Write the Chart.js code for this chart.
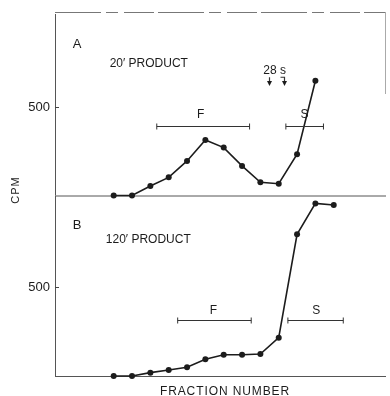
<!DOCTYPE html>
<html>
<head>
<meta charset="utf-8">
<script src="https://cdn.jsdelivr.net/npm/chart.js@4/dist/chart.umd.min.js"></script>
<style>
  html, body { margin: 0; padding: 0; background: #fff; }
  #wrap { position: relative; width: 390px; height: 396px; }
  canvas { position: absolute; left: 0; }
  #cA { top: 0; }
  #cB { top: 186px; }
</style>
</head>
<body>
<div id="wrap">
  <canvas id="cA" width="390" height="215"></canvas>
  <canvas id="cB" width="390" height="210"></canvas>
</div>
<script>
// Fraction numbers and counts for the two sedimentation profiles
const fractionsA = [1, 2, 3, 4, 5, 6, 7, 8, 9, 10, 11, 12];
const cpmA = [0, 0, 54, 103, 196, 315, 272, 168, 75, 67, 234, 651];

const fractionsB = [1, 2, 3, 4, 5, 6, 7, 8, 9, 10, 11, 12, 13];
const cpmB = [0, 0, 19, 34, 49, 94, 120, 120, 124, 216, 799, 973, 964];

const cpmTicks = [500];
const panelLabels = ['A', 'B'];
const productLabels = ['20\u2032 PRODUCT', '120\u2032 PRODUCT'];
const markerText = '28 s';
const regionLabels = ['F', 'S'];
const xTitle = 'FRACTION NUMBER';
const yTitle = 'CPM';

const INK = '#1c1c1c';
const FONT = '"Liberation Sans", Arial, sans-serif';

// Frame lines, region bars, arrows and free text, placed in data units
const panelDecor = {
  id: 'panelDecor',
  beforeDatasetsDraw(chart, args, o) {
    const { ctx, chartArea: a } = chart;
    ctx.save();
    ctx.strokeStyle = '#555';
    ctx.lineWidth = 1;
    // left axis
    ctx.beginPath();
    ctx.moveTo(a.left + 0.5, a.top);
    ctx.lineTo(a.left + 0.5, a.bottom);
    ctx.stroke();
    // baseline
    ctx.beginPath();
    ctx.moveTo(a.left, a.bottom + 0.5);
    ctx.lineTo(a.right, a.bottom + 0.5);
    ctx.stroke();
    if (o.topLine) {
      ctx.setLineDash([46, 5, 12, 6, 30, 4]);
      ctx.strokeStyle = '#777';
      ctx.beginPath();
      ctx.moveTo(a.left, a.top - 1.5);
      ctx.lineTo(a.right, a.top - 1.5);
      ctx.stroke();
      ctx.setLineDash([]);
    }
    if (o.rightLine) {
      ctx.strokeStyle = '#aaa';
      ctx.beginPath();
      ctx.moveTo(a.right - 0.5, a.top - 2);
      ctx.lineTo(a.right - 0.5, a.top + o.rightLine);
      ctx.stroke();
    }
    // 500 tick, drawn inside the frame
    const ys = chart.scales.y;
    cpmTicks.forEach(v => {
      const y = Math.round(ys.getPixelForValue(v)) + 0.5;
      ctx.strokeStyle = '#444';
      ctx.beginPath();
      ctx.moveTo(a.left, y);
      ctx.lineTo(a.left + 4, y);
      ctx.stroke();
    });
    ctx.restore();
  },
  afterDatasetsDraw(chart, args, o) {
    const { ctx } = chart;
    const xs = chart.scales.x, ys = chart.scales.y;
    const X = v => xs.getPixelForValue(v), Y = v => ys.getPixelForValue(v);
    ctx.save();
    ctx.fillStyle = INK;
    ctx.strokeStyle = '#333';
    ctx.lineWidth = 1;
    (o.bars || []).forEach(b => {
      const y = Math.round(Y(b.y)) + 0.5;
      ctx.beginPath();
      ctx.moveTo(X(b.x1), y); ctx.lineTo(X(b.x2), y);
      ctx.moveTo(X(b.x1), y - 3); ctx.lineTo(X(b.x1), y + 3);
      ctx.moveTo(X(b.x2), y - 3); ctx.lineTo(X(b.x2), y + 3);
      ctx.stroke();
      ctx.font = '12px ' + FONT;
      ctx.textAlign = 'center';
      ctx.textBaseline = 'middle';
      ctx.fillText(b.label, X(b.lx), Y(b.ly));
    });
    (o.arrows || []).forEach(ar => {
      const x = Math.round(X(ar.x)) + 0.5, y1 = Y(ar.y1), y2 = Y(ar.y2);
      ctx.lineWidth = 1.2;
      ctx.beginPath();
      if (ar.hook) { ctx.moveTo(x - 4, y1); ctx.lineTo(x, y1); }
      else ctx.moveTo(x, y1);
      ctx.lineTo(x, y2 - 3);
      ctx.stroke();
      ctx.beginPath();
      ctx.moveTo(x - 2.5, y2 - 4);
      ctx.lineTo(x + 2.5, y2 - 4);
      ctx.lineTo(x, y2 + 1);
      ctx.closePath();
      ctx.fill();
    });
    (o.texts || []).forEach(t => {
      ctx.font = t.font + ' ' + FONT;
      ctx.textAlign = t.align || 'left';
      ctx.textBaseline = 'middle';
      ctx.fillText(t.text, X(t.x), Y(t.y));
    });
    if (o.yTitle) {
      ctx.save();
      ctx.font = '11px ' + FONT;
      ctx.translate(16, o.yTitle.y);
      ctx.rotate(-Math.PI / 2);
      ctx.textAlign = 'center';
      ctx.textBaseline = 'middle';
      ctx.letterSpacing = '1px';
      ctx.fillText(o.yTitle.text, 0, 0);
      ctx.restore();
    }
    if (o.xTitle) {
      ctx.font = '12px ' + FONT;
      ctx.letterSpacing = '0.9px';
      ctx.textAlign = 'center';
      ctx.textBaseline = 'middle';
      ctx.fillText(o.xTitle.text, o.xTitle.x, o.xTitle.y);
    }
    ctx.restore();
  }
};

function panelOptions(yMax, pad, decor) {
  return {
    responsive: false,
    animation: false,
    devicePixelRatio: 1,
    layout: { padding: { top: pad.top, bottom: pad.bottom, left: 0, right: 2 } },
    plugins: { legend: { display: false }, tooltip: { enabled: false }, panelDecor: decor },
    scales: {
      x: { type: 'linear', min: -2.2, max: 15.85, display: false },
      y: {
        type: 'linear', min: 0, max: yMax,
        afterFit: s => { s.width = 55; s.paddingTop = 0; s.paddingBottom = 0; },
        afterBuildTicks: s => { s.ticks = cpmTicks.map(v => ({ value: v })); },
        grid: { display: false, drawTicks: false },
        border: { display: false },
        ticks: { padding: 5, color: INK, font: { family: FONT, size: 13 } }
      }
    }
  };
}

function profile(xs, ys) {
  return {
    data: xs.map((x, i) => ({ x, y: ys[i] })),
    borderColor: INK,
    backgroundColor: INK,
    borderWidth: 1.6,
    pointRadius: 3,
    pointBorderWidth: 0,
    tension: 0,
    clip: false
  };
}

new Chart(document.getElementById('cA'), {
  type: 'line',
  data: { datasets: [profile(fractionsA, cpmA)] },
  options: panelOptions(1030, { top: 14, bottom: 19.5 }, {
    topLine: true,
    rightLine: 80,
    bars: [
      { x1: 3.35, x2: 8.41, y: 397, label: regionLabels[0], lx: 5.75, ly: 457 },
      { x1: 10.39, x2: 12.44, y: 397, label: regionLabels[1], lx: 11.41, ly: 457 }
    ],
    arrows: [
      { x: 9.49, y1: 671, y2: 627 },
      { x: 10.28, y1: 671, y2: 627, hook: true }
    ],
    texts: [
      { text: panelLabels[0], x: -1.0, y: 855, font: '13px', align: 'center' },
      { text: productLabels[0], x: 0.78, y: 747, font: '12px' },
      { text: markerText, x: 9.78, y: 707, font: '12px', align: 'center' }
    ],
    yTitle: { text: yTitle, y: 190 }
  }),
  plugins: [panelDecor]
});

new Chart(document.getElementById('cB'), {
  type: 'line',
  data: { datasets: [profile(fractionsB, cpmB)] },
  options: panelOptions(1015, { top: 10, bottom: 20 }, {
    bars: [
      { x1: 4.49, x2: 8.5, y: 316, label: regionLabels[0], lx: 6.44, ly: 368 },
      { x1: 10.5, x2: 13.52, y: 316, label: regionLabels[1], lx: 12.04, ly: 368 }
    ],
    texts: [
      { text: panelLabels[1], x: -1.0, y: 851, font: '13px', align: 'center' },
      { text: productLabels[1], x: 0.57, y: 767, font: '12px' }
    ],
    xTitle: { text: xTitle, x: 225, y: 205.7 }
  }),
  plugins: [panelDecor]
});
</script>
</body>
</html>
